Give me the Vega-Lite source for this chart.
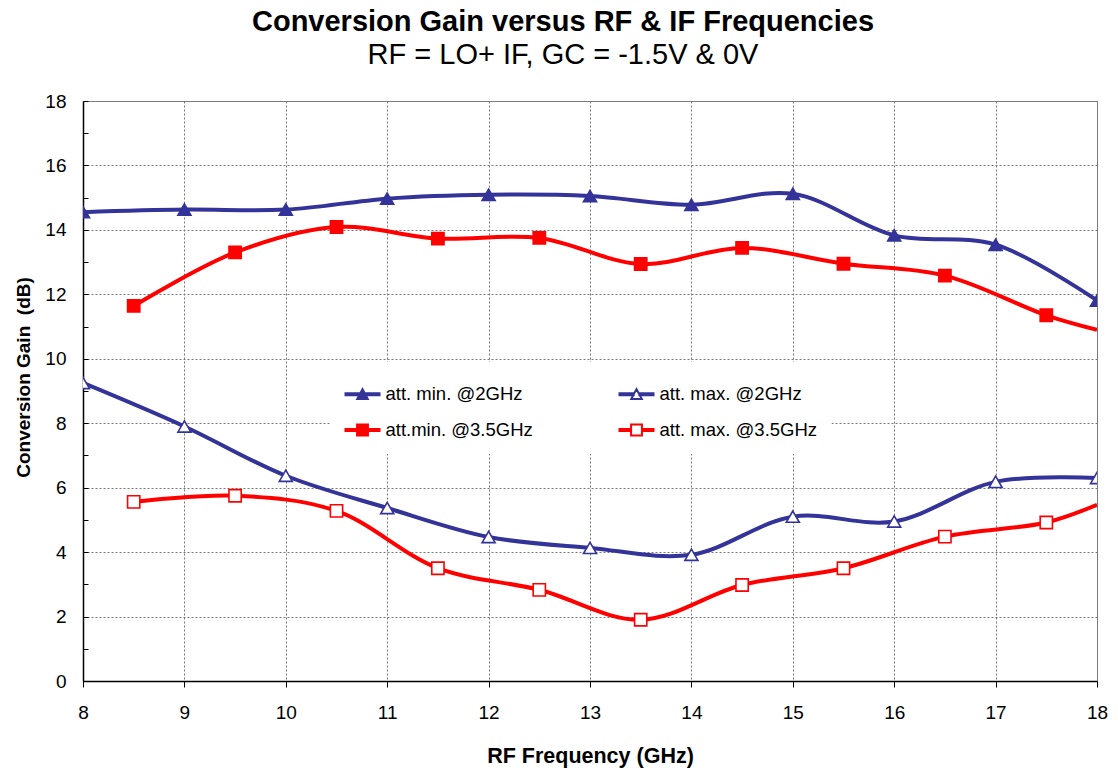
{
  "$schema": "https://vega.github.io/schema/vega-lite/v6.json",
  "autosize": "none",
  "width": 1014,
  "height": 580,
  "padding": {"left": 83, "top": 101, "right": 21, "bottom": 90},
  "background": "white",
  "config": {
    "font": "Liberation Sans",
    "view": {"stroke": "#808080", "strokeWidth": 1},
    "legend": {
      "title": null,
      "orient": "none",
      "legendX": 247.5,
      "legendY": 261,
      "columns": 2,
      "columnPadding": 82,
      "rowPadding": 8,
      "padding": 14,
      "fillColor": "white",
      "symbolSize": 1156,
      "symbolStrokeWidth": 2,
      "symbolOpacity": 1,
      "labelFont": "Liberation Sans",
      "labelFontSize": 18.5,
      "labelColor": "black",
      "labelOffset": 5,
      "labelLimit": 400
    }
  },
  "title": {
    "text": "Conversion Gain versus RF & IF Frequencies",
    "subtitle": "RF = LO+ IF, GC = -1.5V & 0V",
    "font": "Liberation Sans",
    "fontSize": 29,
    "fontWeight": "bold",
    "color": "black",
    "subtitleFont": "Liberation Sans",
    "subtitleFontSize": 29,
    "subtitleColor": "black",
    "subtitlePadding": 4,
    "anchor": "middle",
    "dx": -27,
    "offset": 22
  },
  "data": {
    "values": [
      {"f": 8, "g": 14.55, "s": "att. min. @2GHz"},
      {"f": 9, "g": 14.63, "s": "att. min. @2GHz"},
      {"f": 10, "g": 14.63, "s": "att. min. @2GHz"},
      {"f": 11, "g": 14.97, "s": "att. min. @2GHz"},
      {"f": 12, "g": 15.09, "s": "att. min. @2GHz"},
      {"f": 13, "g": 15.05, "s": "att. min. @2GHz"},
      {"f": 14, "g": 14.78, "s": "att. min. @2GHz"},
      {"f": 15, "g": 15.12, "s": "att. min. @2GHz"},
      {"f": 16, "g": 13.83, "s": "att. min. @2GHz"},
      {"f": 17, "g": 13.54, "s": "att. min. @2GHz"},
      {"f": 18, "g": 11.81, "s": "att. min. @2GHz"},
      {"f": 8, "g": 9.25, "s": "att. max. @2GHz"},
      {"f": 9, "g": 7.9, "s": "att. max. @2GHz"},
      {"f": 10, "g": 6.37, "s": "att. max. @2GHz"},
      {"f": 11, "g": 5.37, "s": "att. max. @2GHz"},
      {"f": 12, "g": 4.47, "s": "att. max. @2GHz"},
      {"f": 13, "g": 4.13, "s": "att. max. @2GHz"},
      {"f": 14, "g": 3.92, "s": "att. max. @2GHz"},
      {"f": 15, "g": 5.1, "s": "att. max. @2GHz"},
      {"f": 16, "g": 4.95, "s": "att. max. @2GHz"},
      {"f": 17, "g": 6.18, "s": "att. max. @2GHz"},
      {"f": 18, "g": 6.3, "s": "att. max. @2GHz"},
      {"f": 8.5, "g": 11.64, "s": "att.min. @3.5GHz"},
      {"f": 9.5, "g": 13.3, "s": "att.min. @3.5GHz"},
      {"f": 10.5, "g": 14.09, "s": "att.min. @3.5GHz"},
      {"f": 11.5, "g": 13.73, "s": "att.min. @3.5GHz"},
      {"f": 12.5, "g": 13.75, "s": "att.min. @3.5GHz"},
      {"f": 13.5, "g": 12.94, "s": "att.min. @3.5GHz"},
      {"f": 14.5, "g": 13.44, "s": "att.min. @3.5GHz"},
      {"f": 15.5, "g": 12.95, "s": "att.min. @3.5GHz"},
      {"f": 16.5, "g": 12.58, "s": "att.min. @3.5GHz"},
      {"f": 17.5, "g": 11.35, "s": "att.min. @3.5GHz"},
      {"f": 18, "g": 10.9, "s": "att.min. @3.5GHz"},
      {"f": 8.5, "g": 5.56, "s": "att. max. @3.5GHz"},
      {"f": 9.5, "g": 5.75, "s": "att. max. @3.5GHz"},
      {"f": 10.5, "g": 5.28, "s": "att. max. @3.5GHz"},
      {"f": 11.5, "g": 3.5, "s": "att. max. @3.5GHz"},
      {"f": 12.5, "g": 2.83, "s": "att. max. @3.5GHz"},
      {"f": 13.5, "g": 1.9, "s": "att. max. @3.5GHz"},
      {"f": 14.5, "g": 2.98, "s": "att. max. @3.5GHz"},
      {"f": 15.5, "g": 3.5, "s": "att. max. @3.5GHz"},
      {"f": 16.5, "g": 4.48, "s": "att. max. @3.5GHz"},
      {"f": 17.5, "g": 4.92, "s": "att. max. @3.5GHz"},
      {"f": 18, "g": 5.47, "s": "att. max. @3.5GHz"}
    ]
  },
  "encoding": {
    "x": {
      "field": "f",
      "type": "quantitative",
      "scale": {"domain": [8, 18], "nice": false, "zero": false},
      "axis": {
        "title": "RF Frequency (GHz)",
        "values": [8, 9, 10, 11, 12, 13, 14, 15, 16, 17, 18],
        "format": "d",
        "labelFont": "Liberation Sans",
        "labelFontSize": 19,
        "labelColor": "black",
        "labelPadding": 16,
        "labelFlush": false,
        "tickSize": 6,
        "tickColor": "black",
        "domainColor": "black",
        "domainWidth": 1.5,
        "grid": true,
        "gridColor": "#777777",
        "gridDash": [2, 2],
        "gridWidth": 1,
        "titleFont": "Liberation Sans",
        "titleFontSize": 21.5,
        "titleFontWeight": "bold",
        "titleColor": "black",
        "titlePadding": 23
      }
    },
    "y": {
      "field": "g",
      "type": "quantitative",
      "scale": {"domain": [0, 18], "nice": false},
      "axis": {
        "title": "Conversion Gain \u00a0(dB)",
        "titleY": 276,
        "values": [0, 1, 2, 3, 4, 5, 6, 7, 8, 9, 10, 11, 12, 13, 14, 15, 16, 17, 18],
        "labelExpr": "datum.value % 2 == 0 ? datum.label : ''",
        "labelFont": "Liberation Sans",
        "labelFontSize": 19,
        "labelColor": "black",
        "labelPadding": 22,
        "tickSize": -5,
        "tickColor": "black",
        "domainColor": "black",
        "domainWidth": 1.5,
        "grid": true,
        "gridColor": "#777777",
        "gridDash": [2, 2],
        "gridWidth": 1,
        "gridOpacity": {"condition": {"test": "datum.value % 2 == 0", "value": 1}, "value": 0},
        "titleFont": "Liberation Sans",
        "titleFontSize": 19,
        "titleFontWeight": "bold",
        "titleColor": "black",
        "titlePadding": 11
      }
    }
  },
  "layer": [
    {
      "mark": {"type": "line", "interpolate": "catmull-rom", "strokeWidth": 4, "clip": true},
      "encoding": {
        "stroke": {
          "field": "s",
          "type": "nominal",
          "scale": {
            "domain": ["att. min. @2GHz", "att.min. @3.5GHz", "att. max. @2GHz", "att. max. @3.5GHz"],
            "range": ["#333399", "#FF0000", "#333399", "#FF0000"]
          },
          "legend": {"title": null}
        }
      }
    },
    {
      "transform": [{"filter": "indexof(datum.s, '@2GHz') >= 0"}],
      "mark": {"type": "point", "shape": "triangle-up", "size": 170, "strokeWidth": 1.6, "opacity": 1, "clip": true},
      "encoding": {
        "stroke": {"field": "s", "type": "nominal", "legend": {"title": null}},
        "fill": {
          "field": "s",
          "type": "nominal",
          "scale": {
            "domain": ["att. min. @2GHz", "att.min. @3.5GHz", "att. max. @2GHz", "att. max. @3.5GHz"],
            "range": ["#333399", "#FF0000", "white", "white"]
          },
          "legend": {"title": null}
        }
      }
    },
    {
      "transform": [{"filter": "indexof(datum.s, '3.5') >= 0 && datum.f < 18"}],
      "mark": {"type": "point", "shape": "square", "size": 150, "strokeWidth": 1.6, "opacity": 1, "clip": true},
      "encoding": {
        "stroke": {"field": "s", "type": "nominal", "legend": {"title": null}},
        "fill": {"field": "s", "type": "nominal", "legend": {"title": null}}
      }
    },
    {
      "mark": {"type": "point", "opacity": 0, "size": 10, "clip": true},
      "encoding": {
        "stroke": {"field": "s", "type": "nominal", "legend": {"title": null}},
        "fill": {"field": "s", "type": "nominal", "legend": {"title": null}},
        "shape": {
          "field": "s",
          "type": "nominal",
          "scale": {
            "domain": ["att. min. @2GHz", "att.min. @3.5GHz", "att. max. @2GHz", "att. max. @3.5GHz"],
            "range": [
              "M-1,-0.06H1V0.06H-1Z M-0.31,0.28L0,-0.3L0.31,0.28Z",
              "M-1,-0.06H1V0.06H-1Z M-0.32,-0.32H0.32V0.32H-0.32Z",
              "M-1,-0.06H-0.17V0.06H-1Z M0.17,-0.06H1V0.06H0.17Z M-0.31,0.28L0,-0.3L0.31,0.28Z",
              "M-1,-0.06H-0.32V0.06H-1Z M0.32,-0.06H1V0.06H0.32Z M-0.32,-0.32H0.32V0.32H-0.32Z"
            ]
          },
          "legend": {"title": null}
        }
      }
    }
  ]
}
